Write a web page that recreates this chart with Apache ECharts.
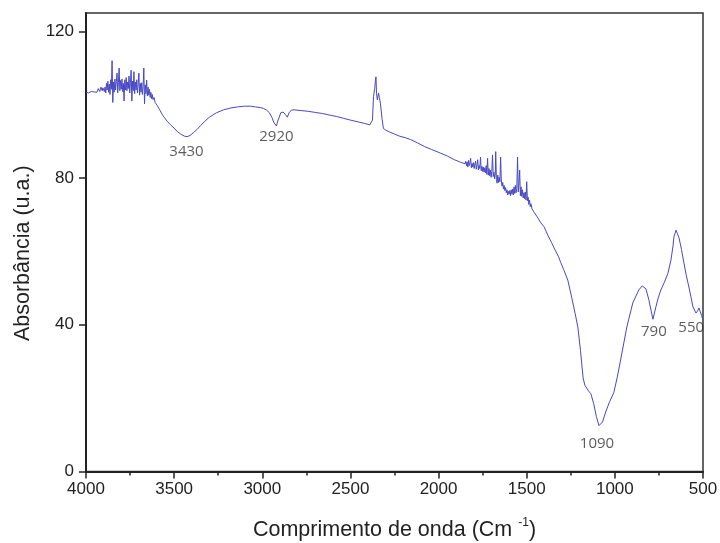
<!DOCTYPE html>
<html>
<head>
<meta charset="utf-8">
<title>Espectro FTIR</title>
<script src="https://cdn.jsdelivr.net/npm/echarts@6/dist/echarts.min.js"></script>
<style>
  html, body { margin: 0; padding: 0; background: #ffffff; }
  #chart { width: 720px; height: 543px; }
</style>
</head>
<body>
<div id="chart"></div>
<script>
// Wavenumber (cm-1) and absorbance of the measured spectrum
const wavenumbers = [
  4000, 3985, 3970, 3955, 3945, 3938, 3930, 3922, 3915, 3908, 3904,
  3900, 3896, 3892, 3888, 3884, 3880, 3876, 3872, 3868, 3864, 3860, 3856, 3852, 3848, 3844, 3840,
  3836, 3832, 3828, 3824, 3820, 3816, 3812, 3808, 3804, 3800, 3796, 3792, 3788, 3784, 3780, 3776,
  3772, 3768, 3764, 3760, 3756, 3752, 3748, 3744, 3740, 3736, 3732, 3728, 3724, 3720, 3716, 3712,
  3708, 3704, 3700, 3696, 3692, 3688, 3684, 3680, 3676, 3672, 3668, 3664, 3660, 3656, 3652, 3648,
  3644, 3640, 3636, 3632, 3628, 3624, 3620, 3614, 3608, 3602, 3596, 3590, 3582, 3575, 3566, 3557,
  3540, 3520, 3500, 3480, 3460, 3440, 3426, 3410, 3390, 3369, 3350, 3330,
  3300, 3260, 3220, 3180, 3140, 3100, 3068, 3040, 3010, 2994, 2975, 2960, 2945, 2935, 2920, 2910, 2895,
  2882, 2870, 2858, 2848, 2835, 2820, 2780, 2740, 2700, 2660, 2620, 2580, 2540, 2500, 2455, 2420, 2390,
  2375, 2369, 2362, 2358, 2355, 2352, 2347, 2341, 2336, 2330, 2320, 2313, 2300, 2280, 2250, 2220, 2188,
  2159, 2120, 2080, 2040, 1989, 1950, 1910, 1875,
  1850, 1846, 1842, 1838, 1834, 1830, 1826, 1822, 1818, 1814, 1810, 1806, 1802, 1798, 1794, 1790,
  1786, 1782, 1778, 1774, 1770, 1766, 1762, 1758, 1754, 1750, 1746, 1742, 1738, 1734, 1730, 1726,
  1722, 1718, 1714, 1710, 1706, 1702, 1698, 1694, 1690, 1686, 1682, 1678, 1676, 1672, 1668, 1664,
  1660, 1656, 1652, 1648, 1644, 1640, 1636, 1632, 1628, 1624, 1620, 1616, 1612, 1608, 1604, 1600,
  1596, 1592, 1588, 1584, 1580, 1576, 1572, 1568, 1564, 1560, 1556, 1552, 1548, 1544, 1540, 1536,
  1532, 1528, 1524, 1520, 1516, 1512, 1508, 1504, 1500, 1496, 1492, 1488, 1484, 1480, 1476, 1470,
  1464, 1460, 1450, 1440, 1432, 1420, 1403, 1390, 1381, 1360, 1340, 1320, 1307, 1290, 1267,
  1245, 1225, 1210, 1195, 1180, 1170, 1150, 1136, 1120, 1105, 1090, 1082, 1070, 1050, 1030, 1006, 985,
  960, 932, 898, 864, 845, 835, 824, 807, 795, 784, 778, 767, 756, 739, 720, 699, 682, 670, 665, 658,
  653, 645, 636, 622, 608, 595, 580, 568, 557, 540, 530, 523, 515, 508, 500
];
const absorbance = [
  103.4, 103.2, 103.6, 103.5, 104.0, 103.4, 104.4, 103.6, 104.8, 103.8, 104.6,
  105.0, 103.6, 104.8, 103.2, 105.8, 104.0, 106.4, 103.4, 105.6, 102.8, 106.8, 104.2, 112.0, 100.6, 106.2, 103.4,
  107.0, 104.0, 106.4, 108.6, 103.2, 106.0, 110.0, 103.8, 106.6, 104.2, 107.0, 103.6, 105.8, 101.0, 106.8, 104.0,
  107.4, 103.8, 106.2, 104.4, 107.8, 103.2, 106.0, 109.4, 101.0, 106.4, 103.8, 109.0, 103.0, 106.2, 104.0, 106.8,
  103.2, 105.6, 108.6, 102.6, 105.8, 103.4, 106.0, 102.8, 105.0, 110.0, 100.2, 105.4, 103.0, 106.7, 102.4, 104.8,
  102.6, 104.2, 102.0, 103.4, 101.6, 102.8, 101.4, 102.0, 100.6, 100.9, 99.8, 99.6, 98.6, 98.3, 97.2, 96.6,
  95.5, 94.5, 93.6, 92.6, 91.9, 91.4, 91.3, 91.6, 92.4, 93.3, 94.3, 95.3,
  96.6, 97.8, 98.6, 99.1, 99.4, 99.6, 99.6, 99.4, 99.2, 99.0, 98.5, 97.8, 96.5, 95.2, 94.2, 95.8, 97.8,
  98.0, 97.4, 96.6, 97.8, 98.5, 98.6, 98.4, 98.2, 97.9, 97.6, 97.2, 96.8, 96.3, 95.8, 95.3, 94.9, 94.5,
  95.8, 102.2, 104.5, 106.7, 107.6, 103.0, 101.3, 103.2, 102.0, 100.4, 96.0, 93.5, 93.1, 92.6, 92.0, 91.4, 91.0,
  90.5, 89.6, 88.6, 87.8, 86.8, 86.0, 85.0, 84.3,
  83.9, 84.6, 83.4, 84.4, 83.0, 84.8, 83.4, 84.2, 85.4, 82.8, 84.0, 83.0, 84.2, 82.6, 83.8, 84.6,
  82.4, 83.6, 85.0, 82.2, 83.4, 82.6, 85.7, 82.0, 83.2, 81.8, 83.0, 81.6, 82.8, 81.4, 83.4, 81.0,
  85.4, 80.8, 82.6, 80.6, 82.2, 80.2, 81.8, 86.3, 80.4, 81.6, 79.8, 81.2, 87.2, 79.6, 78.6, 80.8,
  78.8, 80.2, 79.0, 85.7, 79.2, 77.8, 78.8, 77.0, 78.0, 76.6, 77.4, 76.0, 76.8, 75.4, 76.4, 75.6,
  76.6, 75.2, 76.8, 75.6, 77.0, 75.4, 77.6, 75.8, 78.0, 76.0, 77.2, 85.7, 76.2, 78.4, 82.2, 75.2,
  77.6, 75.0, 76.8, 74.6, 76.0, 74.4, 76.2, 74.0, 79.0, 73.8, 74.8, 72.8, 74.0, 72.2, 73.0, 71.6,
  71.8, 70.8, 70.5, 69.4, 69.1, 67.8, 66.8, 65.5, 64.5, 62.5, 60.5, 58.6, 57.0, 55.0, 52.2,
  47.5, 43.0, 39.4, 33.0, 25.5, 23.5, 22.0, 21.2, 18.5, 15.0, 12.5, 12.0, 13.5, 16.5, 19.0, 21.5, 26.0,
  32.3, 39.4, 46.0, 49.5, 50.6, 50.8, 49.8, 46.8, 44.0, 41.5, 42.0, 44.9, 47.0, 49.5, 51.5, 54.0, 57.6, 61.5, 64.0, 65.0,
  65.8, 64.8, 63.7, 60.5, 56.8, 53.5, 50.3, 47.5, 44.9, 43.2, 43.8, 44.6, 43.5, 42.5, 41.3
];

// Assigned bands and the absorbance at each band
const bandWavenumbers = [3430, 2920, 1090, 790, 550];
const bandAbsorbance = [91.3, 94.2, 12.2, 41.5, 43.5];

// Axis ticks
const xTicks = [4000, 3500, 3000, 2500, 2000, 1500, 1000, 500];
const yTicks = [0, 40, 80, 120];

const spectrum = wavenumbers.map((w, i) => [w, absorbance[i]]);

// Gap between each band's minimum and its label
const labelGap = [8, 3, 9, 5, 8];
const labelShift = [0, 0, -2, 2, -3];
const bands = bandWavenumbers.map((w, i) => ({
  value: [w, bandAbsorbance[i]],
  label: { distance: labelGap[i], offset: [labelShift[i], 0] }
}));

const chart = echarts.init(document.getElementById('chart'), null, { renderer: 'canvas' });

const axisColor = '#222222';
const sans = 'Liberation Sans, Arial, sans-serif';

chart.setOption({
  backgroundColor: '#ffffff',
  animation: false,
  grid: {
    left: 86, right: 17, top: 13, bottom: 71.5,
    outerBoundsMode: 'none',
    show: true, borderColor: '#333333', borderWidth: 1.5, backgroundColor: 'transparent'
  },
  xAxis: {
    type: 'value',
    inverse: true,
    min: xTicks[xTicks.length - 1],
    max: xTicks[0],
    interval: 500,
    name: '{t|Comprimento de onda (Cm }{s|-1}{t|)}',
    nameLocation: 'middle',
    nameGap: 45,
    nameTextStyle: {
      rich: {
        t: { fontFamily: sans, fontSize: 21.5, color: '#222', lineHeight: 28 },
        s: { fontFamily: sans, fontSize: 12, color: '#222', verticalAlign: 'top', lineHeight: 16 }
      }
    },
    axisLine: { onZero: false, lineStyle: { color: axisColor, width: 2 } },
    axisTick: { show: true, inside: false, length: 7, lineStyle: { color: axisColor, width: 1.5 } },
    minorTick: { show: true, splitNumber: 2, length: 4, lineStyle: { color: axisColor, width: 1.5 } },
    axisLabel: {
      fontFamily: sans, fontSize: 17, color: '#222', margin: 9,
      formatter: (v) => String(v)
    },
    splitLine: { show: false },
    minorSplitLine: { show: false }
  },
  yAxis: {
    type: 'value',
    min: 0,
    max: 125,
    name: 'Absorbância (u.a.)',
    nameLocation: 'middle',
    nameGap: 52,
    nameTextStyle: { fontFamily: sans, fontSize: 21.5, color: '#222', padding: [0, 22, 0, 0] },
    axisLine: { onZero: false, lineStyle: { color: axisColor, width: 2 } },
    axisTick: { show: true, inside: false, length: 7, customValues: yTicks, lineStyle: { color: axisColor, width: 1.5 } },
    axisLabel: {
      customValues: yTicks,
      fontFamily: sans, fontSize: 17, color: '#222', margin: 12
    },
    splitLine: { show: false }
  },
  series: [
    {
      name: 'Espectro',
      type: 'line',
      data: spectrum,
      showSymbol: false,
      symbol: 'none',
      lineStyle: { color: '#4848c4', width: 1 },
      z: 2
    },
    {
      name: 'Bandas',
      type: 'scatter',
      data: bands,
      symbolSize: 0,
      silent: true,
      label: {
        show: true,
        position: 'bottom',
        formatter: (p) => String(p.value[0]),
        fontFamily: 'Open Sans, sans-serif',
        fontSize: 15,
        color: '#333333'
      },
      z: 3
    }
  ]
});
</script>
</body>
</html>
